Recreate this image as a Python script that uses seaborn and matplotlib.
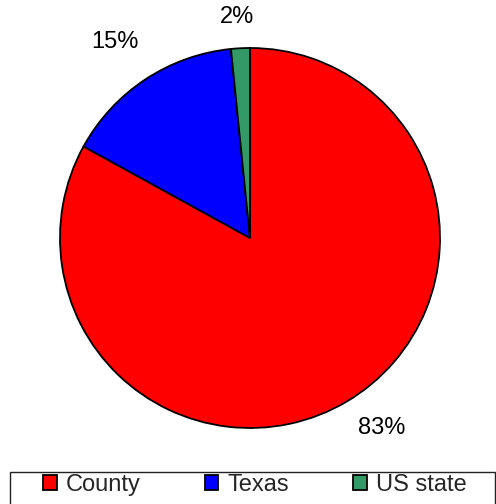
import matplotlib
matplotlib.use("Agg")
import matplotlib.pyplot as plt
from matplotlib.patches import Rectangle
import seaborn as sns

categories = ["County", "Texas", "US state"]
shares = [83.0, 15.4, 1.6]
colors = ["#ff0000", "#0000ff", "#339966"]
# where each percentage label sits, in pie-radius units from the centre
label_xy = [(0.695, -1.0), (-0.711, 1.034), (-0.068, 1.163)]

sns.set_theme(style="white")
plt.rcParams["font.family"] = ["Liberation Sans", "DejaVu Sans"]

W, H = 496, 504
fig = plt.figure(figsize=(W / 100, H / 100), dpi=100)
fig.patch.set_facecolor("white")

cx, cy, r = 250, 266, 190
ax = fig.add_axes([(cx - r) / W, (cy - r) / H, 2 * r / W, 2 * r / H])

wedges, texts, autotexts = ax.pie(
    shares,
    colors=colors,
    startangle=90,
    counterclock=False,
    autopct="%.0f%%",
    pctdistance=1.2,
    wedgeprops=dict(edgecolor="black", linewidth=1.3),
    textprops=dict(fontsize=17, color="black"),
)
for t, xy in zip(autotexts, label_xy):
    t.set_position(xy)
    t.set_clip_on(False)
ax.set_xlim(-1, 1)
ax.set_ylim(-1, 1)
ax.axis("off")

# legend box along the bottom edge
fig.patches.append(Rectangle((10 / W, -0.02), 485 / W, (504 - 472) / H + 0.02,
                             transform=fig.transFigure, fill=False,
                             edgecolor="#222222", linewidth=1.0))

leg = fig.legend(
    wedges,
    categories,
    loc="center left",
    bbox_to_anchor=(43 / W, 19 / H),
    ncol=3,
    fontsize=17,
    frameon=False,
    handlelength=0.59,
    handleheight=0.59,
    handletextpad=0.38,
    columnspacing=2.7,
    borderpad=0,
    borderaxespad=0,
)

fig.savefig("out.png", dpi=100)
